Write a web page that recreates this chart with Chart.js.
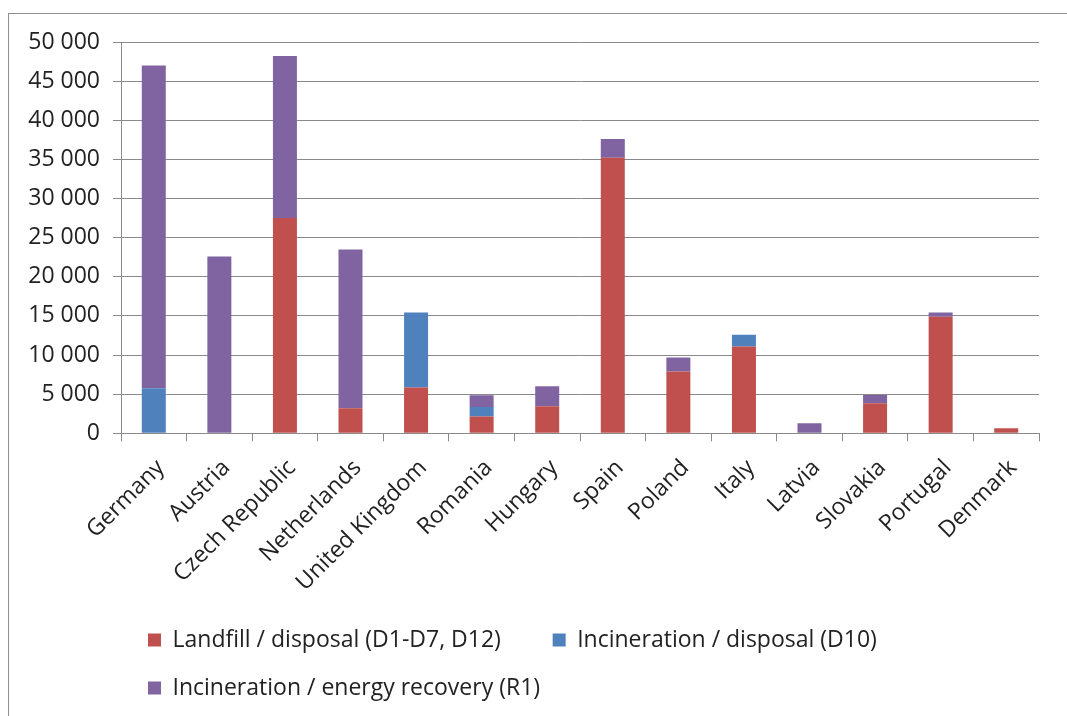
<!DOCTYPE html>
<html>
<head>
<meta charset="utf-8">
<script src="https://cdn.jsdelivr.net/npm/chart.js@4/dist/chart.umd.min.js"></script>
<style>
  html, body { margin: 0; padding: 0; background: #ffffff; }
  body { width: 1067px; height: 716px; position: relative; overflow: hidden; }
  #frame { position: absolute; left: 8px; top: 13px; width: 1200px; height: 800px; border: 1px solid #8f8f8f; box-sizing: border-box; }
  #wrap { position: absolute; left: 0; top: 0; width: 1067px; height: 716px; }
</style>
</head>
<body>
<div id="frame"></div>
<div id="wrap"><canvas id="c" width="1067" height="716"></canvas></div>
<script>
const categories = ['Germany', 'Austria', 'Czech Republic', 'Netherlands', 'United Kingdom', 'Romania', 'Hungary', 'Spain', 'Poland', 'Italy', 'Latvia', 'Slovakia', 'Portugal', 'Denmark'];
const landfill = [0, 0, 27500, 3200, 5850, 2150, 3450, 35200, 7900, 11100, 0, 3850, 14900, 650];
const incinerationD10 = [5750, 0, 0, 0, 9600, 1200, 0, 0, 0, 1500, 0, 0, 0, 0];
const incinerationR1 = [41250, 22600, 20700, 20300, 0, 1500, 2550, 2400, 1800, 0, 1300, 1050, 550, 0];
const seriesNames = ['Landfill / disposal (D1-D7, D12)', 'Incineration / disposal (D10)', 'Incineration / energy recovery (R1)'];
const yTicks = [0, 5000, 10000, 15000, 20000, 25000, 30000, 35000, 40000, 45000, 50000];

const colors = ['#C0504D', '#4F81BD', '#8064A2'];
const gridColor = '#8a8a8a';
const textColor = '#222222';
const FONT = "'Open Sans', 'Noto Sans', sans-serif";

function fmt(v) {
  return String(v).replace(/\B(?=(\d{3})+(?!\d))/g, ' ');
}

const legendShift = {
  id: 'legendShift',
  afterLayout(chart) {
    if (chart.legend) { chart.legend.left = 123; }
  }
};

new Chart(document.getElementById('c'), {
  type: 'bar',
  data: {
    labels: categories,
    datasets: [
      { label: seriesNames[0], data: landfill, backgroundColor: colors[0] },
      { label: seriesNames[1], data: incinerationD10, backgroundColor: colors[1] },
      { label: seriesNames[2], data: incinerationR1, backgroundColor: colors[2] }
    ]
  },
  options: {
    responsive: false,
    animation: false,
    datasets: { bar: { barPercentage: 0.366, categoryPercentage: 1.0 } },
    layout: { padding: { left: 0, top: 42, right: 28, bottom: 6.5 } },
    plugins: {
      tooltip: { enabled: false },
      legend: {
        position: 'bottom',
        align: 'start',
        labels: {
          boxWidth: 13,
          boxHeight: 13,
          padding: 25,
          color: textColor,
          font: { family: FONT, size: 23 },
          generateLabels(chart) {
            const items = Chart.defaults.plugins.legend.labels.generateLabels(chart);
            items.forEach((it, i) => { if (i === 0) it.text = it.text + '\u2003\u2009'; it.lineWidth = 0; });
            return items;
          }
        }
      }
    },
    scales: {
      x: {
        stacked: true,
        offset: true,
        grid: { display: true, drawOnChartArea: false, drawTicks: true, tickLength: 8, color: gridColor, offset: true },
        border: { display: true, color: gridColor, width: 1 },
        ticks: { color: textColor, font: { family: FONT, size: 23 }, minRotation: 45, maxRotation: 45, padding: 13, labelOffset: 7, autoSkip: false },
        afterFit(scale) { scale.height = 170.2; }
      },
      y: {
        stacked: true,
        min: 0,
        max: 50000,
        afterBuildTicks(scale) { scale.ticks = yTicks.map(v => ({ value: v })); },
        grid: { color: gridColor, tickLength: 8, drawTicks: true },
        border: { display: true, color: gridColor, width: 1 },
        ticks: { color: textColor, font: { family: FONT, size: 23 }, padding: 13, callback: v => fmt(v) },
        afterFit(scale) { scale.width = 121; }
      }
    }
  },
  plugins: [legendShift]
});
</script>
</body>
</html>
